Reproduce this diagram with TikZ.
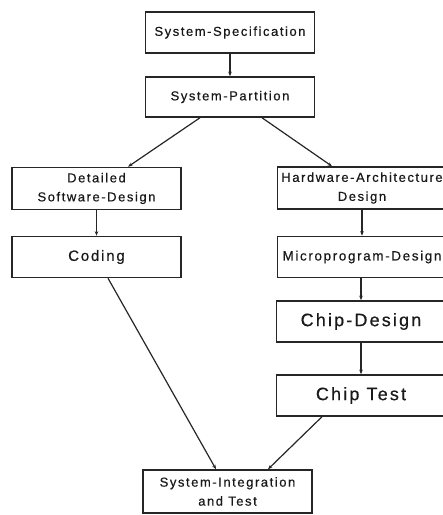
\documentclass[tikz,border=0pt]{standalone}
\usepackage{fontspec}
\setmainfont{Liberation Sans}
\newfontfamily\lbl[LetterSpace=12,FakeBold=0.5]{Liberation Sans}
\usetikzlibrary{arrows.meta,calc}
\begin{document}
\begin{tikzpicture}[x=1pt,y=-1pt,
  box/.style={draw=black!85,line width=1.5pt,rectangle,minimum width=169pt,inner sep=0pt,
    align=center,text=black!90,font=\lbl\fontsize{13}{19}\selectfont},
  bigbox/.style={box,font=\lbl\fontsize{18}{21}\selectfont},
  link/.style={draw=black!85,line width=1.2pt,-{Stealth[length=4.5pt,width=3.5pt]}}]
\useasboundingbox (0,0) rectangle (443,515);
% top of the flow
\node[box,minimum height=41pt] (spec) at (230,32.5) {System-Specification};
\node[box,minimum height=40pt] (part) at (230,97) {System-Partition};
% software branch
\node[box,minimum height=42pt] (sw) at (96.5,188.5) {Detailed\\Software-Design};
\node[box,minimum height=41pt,font=\lbl\fontsize{15}{18}\selectfont] (code) at (96.5,257) {Coding};
% hardware branch
\node[box,minimum height=42pt] (hw) at (362,188) {Hardware-Architecture\\Design};
\node[box,minimum height=41pt,font=\lbl\fontsize{13.5}{19}\selectfont] (micro) at (362,257) {Microprogram-Design};
\node[bigbox,minimum height=41pt] (chip) at (361,321.5) {Chip-Design};
\node[bigbox,minimum height=41pt] (test) at (361,395.5) {Chip Test};
% integration
\node[box,minimum height=43pt] (sit) at (227.5,491.5) {System-Integration\\and Test};
% connectors
\draw[link] (spec) -- (part);
\draw[link] ($(part.south)+(-30,0)$) -- ($(sw.north)+(31.5,0)$);
\draw[link] ($(part.south)+(32,0)$) -- ($(hw.north)+(-30,0)$);
\draw[link] (sw) -- (code);
\draw[link] (hw) -- (micro);
\draw[link] (micro.south -| chip.north) -- (chip);
\draw[link] (chip) -- (test);
\draw[link] ($(code.south)+(11.5,0)$) -- ($(sit.north)+(-11.5,0)$);
\draw[link] ($(test.south)+(-39,0)$) -- ($(sit.north)+(40.5,0)$);
\end{tikzpicture}
\end{document}
